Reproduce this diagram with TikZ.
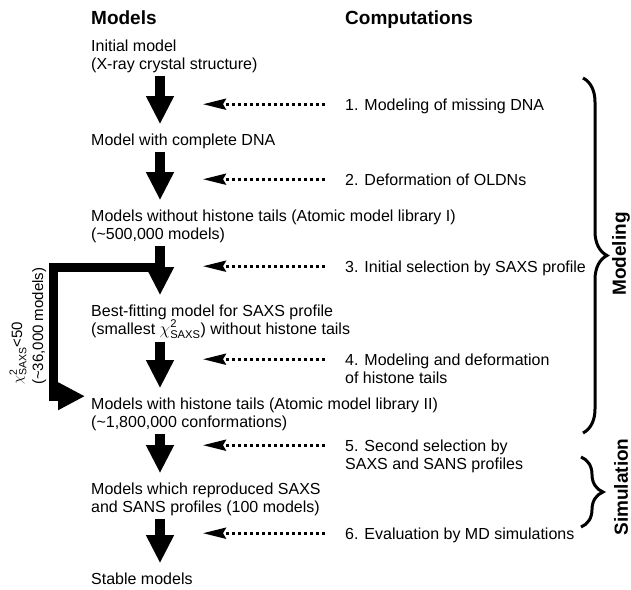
\documentclass[tikz,border=0pt]{standalone}
\usepackage{amsmath}
\usepackage{fontspec}
\setmainfont{Liberation Sans}
\usetikzlibrary{arrows.meta, decorations.pathreplacing}

\tikzset{
  modeltext/.style={anchor=base west, align=left, inner sep=0pt, font=\fontsize{16}{18}\selectfont},
  header/.style={anchor=base west, inner sep=0pt, font=\fontsize{19}{22}\selectfont\bfseries},
  sidelabel/.style={rotate=90, inner sep=0pt, font=\fontsize{19}{22}\selectfont\bfseries},
  bigarrow/.style={line width=10pt, -{Triangle[length=28pt,width=26pt]}, shorten <=3pt, shorten >=9pt},
  dotarrow/.style={line width=3pt, dash pattern=on 3pt off 3pt, -{Stealth[length=23pt,width=11pt,inset=3pt]}},
  bypass/.style={line width=9pt, line join=miter, -{Triangle[length=27pt,width=26pt]}},
  bigbrace/.style={line width=3pt, decorate, decoration={brace, amplitude=#1}}
}

\begin{document}
\begin{tikzpicture}[x=1pt, y=-1pt]
  \useasboundingbox (0,0) rectangle (631,589);
  % Column heads
  \node[header] (hmodels) at (91,24) {Models};
  \node[header] (hcomp) at (345,24) {Computations};
  % Models (base = last line)
  \node[modeltext] (m1) at (91,69) {Initial model\\(X-ray crystal structure)};
  \node[modeltext] (m2) at (91,145) {Model with complete DNA};
  \node[modeltext] (m3) at (91,239) {Models without histone tails (Atomic model library I)\\(\textasciitilde500,000 models)};
  \node[modeltext] (m4) at (91,334) {Best-fitting model for SAXS profile\\(smallest $\chi^{\text{2}}_{\text{SAXS}}$) without histone tails};
  \node[modeltext] (m5) at (91,427) {Models with histone tails (Atomic model library II)\\(\textasciitilde1,800,000 conformations)};
  \node[modeltext] (m6) at (91,512) {Models which reproduced SAXS\\and SANS profiles (100 models)};
  \node[modeltext] (m7) at (91,584) {Stable models};
  % Computations
  \node[modeltext] (s1) at (345,110) {1. Modeling of missing DNA};
  \node[modeltext] (s2) at (345,185) {2. Deformation of OLDNs};
  \node[modeltext] (s3) at (345,272) {3. Initial selection by SAXS profile};
  \node[modeltext] (s4) at (345,383) {4. Modeling and deformation\\of histone tails};
  \node[modeltext] (s5) at (345,469) {5. Second selection by\\SAXS and SANS profiles};
  \node[modeltext] (s6) at (345,539) {6. Evaluation by MD simulations};
  % Flow
  \coordinate (axis) at (160,0);
  \coordinate (tipline) at (203,0);
  \foreach \a/\b in {m1/m2, m2/m3, m3/m4, m4/m5, m5/m6, m6/m7}
    \draw[bigarrow] (\a.south -| axis) -- (\b.north -| axis);
  \foreach \s in {s1, s2, s3, s4, s5, s6} {
    \path ([yshift=-6pt]\s.north west) coordinate (\s-in);
    \draw[dotarrow] ([xshift=-20pt]\s-in) -- (\s-in -| tipline);
  }
  % Shortcut past the best-fitting model
  \coordinate (fork) at (160,267);
  \draw[bypass] (fork) -| ([xshift=-37.5pt,yshift=1pt]m5.north west) -- ([xshift=-6pt,yshift=1pt]m5.north west);
  \node[modeltext, rotate=90, font=\fontsize{15}{18}\selectfont] (chilabel) at (43,385) {$\chi^{\text{2}}_{\text{SAXS}}$<50\\[3pt](\textasciitilde36,000 models)};
  % Braces
  \draw[bigbrace=24pt] (583,78) -- (583,433);
  \node[sidelabel] (modeling) at (621,254) {Modeling};
  \draw[bigbrace=22pt] (581,457) -- (581,527);
  \node[sidelabel] (simulation) at (621,487) {Simulation};
\end{tikzpicture}
\end{document}
